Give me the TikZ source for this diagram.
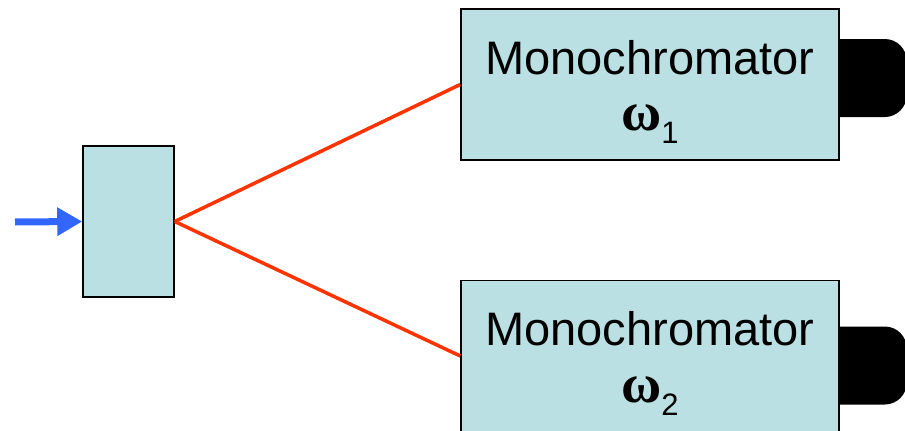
\documentclass[tikz,border=0pt]{standalone}
\usepackage{fontspec}
\setmainfont{Liberation Sans}
\newfontfamily\greekfont{Liberation Serif}
\usetikzlibrary{arrows.meta}
\definecolor{boxfill}{RGB}{187,224,227}
\definecolor{beamred}{RGB}{255,51,0}
\definecolor{pumpblue}{RGB}{51,102,255}
\newcommand{\lowidx}[1]{\raisebox{-13pt}{\fontsize{31}{31}\selectfont #1}}

\begin{document}
\begin{tikzpicture}[x=1pt, y=1pt,
  box/.style={draw=black, line width=1.5pt, fill=boxfill, inner sep=0pt},
  beam/.style={beamred, line width=3.5pt},
  pump/.style={pumpblue, line width=7pt, -{Triangle[length=25pt,width=27pt]}},
  txt/.style={anchor=base, inner sep=0pt, font=\fontsize{47}{57}\selectfont},
]
\useasboundingbox (0,0) rectangle (905,-431);
\node[box, minimum width=91pt, minimum height=151pt] (split) at (128.5,-221.5) {};
\node[box, minimum width=378pt, minimum height=151pt] (mono1) at (650,-84.5) {};
\node[box, minimum width=378pt, minimum height=151pt] (mono2) at (650,-356) {};
\foreach \m/\w in {mono1/1, mono2/2} {
  \node[txt] at ([yshift=-66pt]\m.north) {Monochromator};
  \node[txt] at ([yshift=-122.7pt]\m.north) {{\greekfont\bfseries\fontsize{55}{55}\selectfont ω}\lowidx{\w}};
}
% detectors on the exit slits
\foreach \m/\c in {mono1/78, mono2/365.5}
  \fill (\m.east |- 0,-\c) ++(0,39) -- ++(45,0) arc[start angle=90, end angle=0, radius=22]
    -- ++(0,-34) arc[start angle=0, end angle=-90, radius=22] -- ++(-45,0) -- cycle;
\coordinate (src) at (15,-222);
\draw[pump] (src) -- (split.west);
\draw[beam] (split.east) -- (mono1.west);
\draw[beam] (split.east) -- (mono2.west);
\end{tikzpicture}
\end{document}
